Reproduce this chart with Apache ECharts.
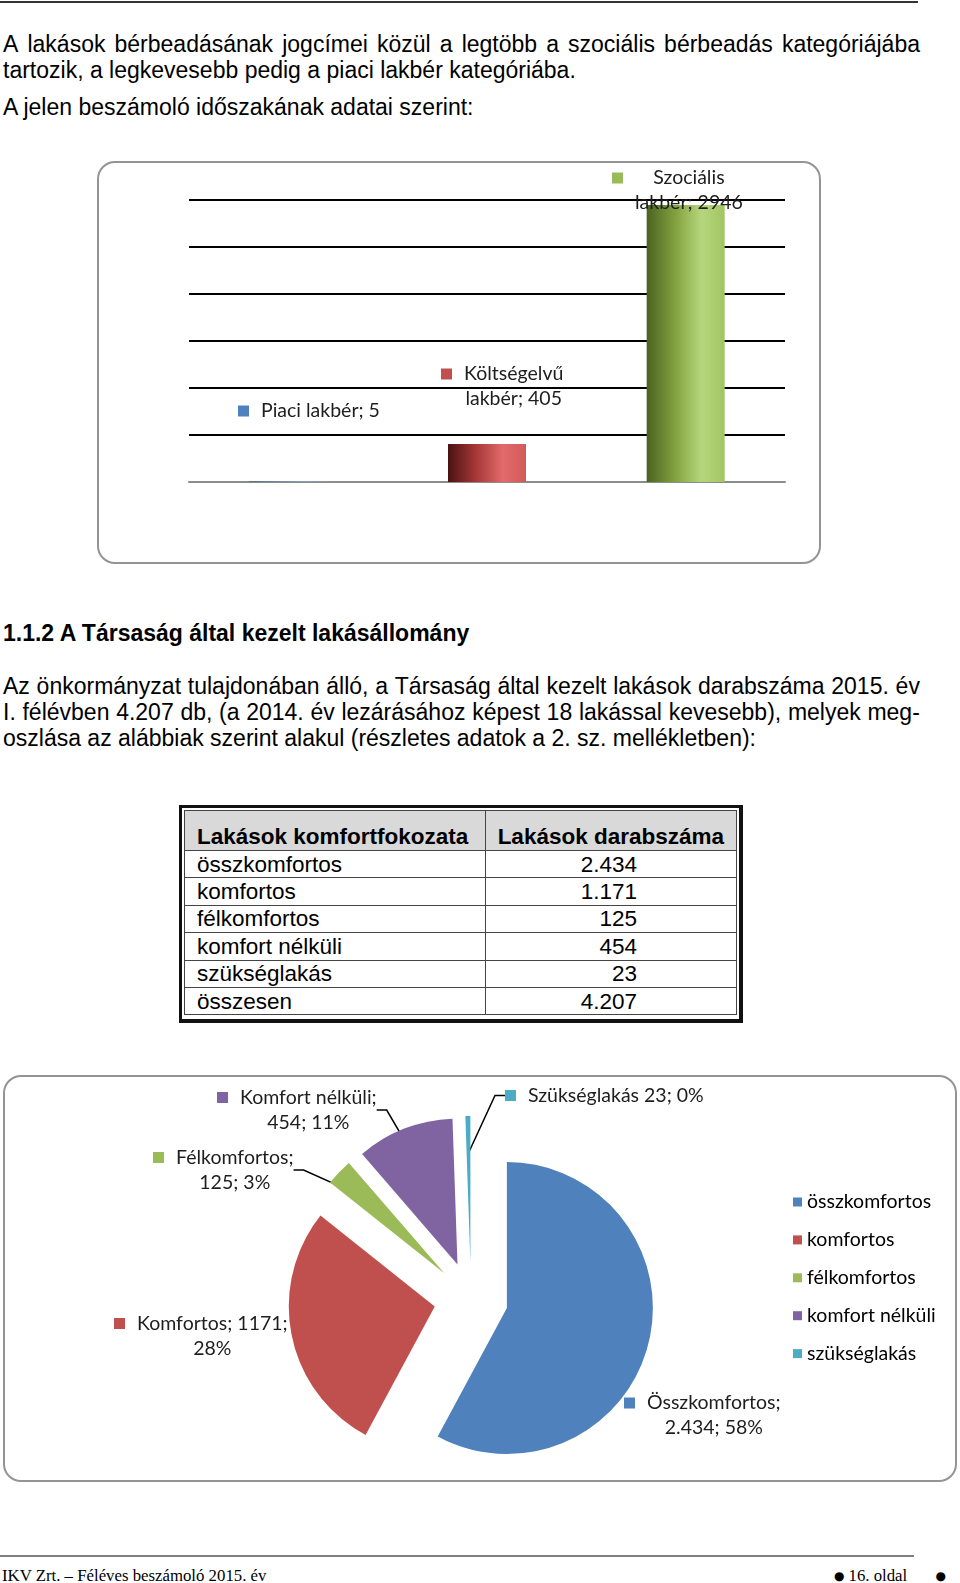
<!DOCTYPE html>
<html>
<head>
<meta charset="utf-8">
<script src="https://cdn.jsdelivr.net/npm/echarts@6/dist/echarts.min.js"></script>
<style>
  html, body { margin: 0; padding: 0; background: #fff; }
  #page { position: relative; width: 960px; height: 1583px; overflow: hidden; font-family: 'Liberation Sans', Arial, sans-serif; color: #000; }
  .rule { position: absolute; left: 0; }
  .ln { position: absolute; left: 3px; width: 917px; font-size: 23px; line-height: 26px; white-space: nowrap; }
  .j { display: flex; justify-content: space-between; }
  .b { font-weight: bold; }
  .box { position: absolute; box-sizing: border-box; border: 2px solid #949494; border-radius: 18px; }
  .chart { position: absolute; }
  #tbl { position: absolute; left: 179px; top: 805px; width: 564px; height: 218px; box-sizing: border-box;
         border: 3px solid #111; border-right-width: 4px; border-bottom-width: 4px; padding: 2px; }
  #tbl table { width: 100%; border-collapse: collapse; font-size: 22.5px; line-height: 25px; }
  #tbl td { border: 1.5px solid #444; padding: 0 12px; height: 26.4px; white-space: nowrap; }
  #tbl tr.h td { background: #d9d9d9; font-weight: bold; height: 38px; vertical-align: bottom; padding-bottom: 1px; }
  #tbl td.v { text-align: right; padding-right: 99px; }
  .foot { position: absolute; top: 1567px; font-family: 'Liberation Serif', 'Times New Roman', serif; font-size: 16.8px; line-height: 18px; white-space: nowrap; }
  #pg { width: 112px; display: flex; align-items: center; }
  .dot { font-family: 'DejaVu Sans', sans-serif; font-size: 12px; }
</style>
</head>
<body>
<div id="page">
  <div class="rule" style="top:1px;width:918px;height:2px;background:#333;"></div>

  <div class="ln j" style="top:30.7px;">A lakások bérbeadásának jogcímei közül a legtöbb a szociális bérbeadás kategóriájába</div>
  <div class="ln" style="top:56.5px;">tartozik, a legkevesebb pedig a piaci lakbér kategóriába.</div>
  <div class="ln" style="top:93.8px;">A jelen beszámoló időszakának adatai szerint:</div>

  <div class="box" style="left:97px;top:161px;width:724px;height:403px;"></div>
  <div class="chart" id="bar_chart" style="left:97px;top:161px;width:724px;height:403px;"></div>

  <div class="ln b" style="top:620.3px;">1.1.2 A Társaság által kezelt lakásállomány</div>

  <div class="ln j" style="top:672.8px;">Az önkormányzat tulajdonában álló, a Társaság által kezelt lakások darabszáma 2015. év</div>
  <div class="ln j" style="top:699px;">I. félévben 4.207 db, (a 2014. év lezárásához képest 18 lakással kevesebb), melyek meg-</div>
  <div class="ln" style="top:725.3px;">oszlása az alábbiak szerint alakul (részletes adatok a 2. sz. mellékletben):</div>

  <div id="tbl"><table id="tbl_body"></table></div>

  <div class="box" style="left:3px;top:1075px;width:954px;height:407px;"></div>
  <div class="chart" id="pie_chart" style="left:3px;top:1075px;width:954px;height:407px;"></div>

  <div class="rule" style="top:1555px;width:914px;height:2px;background:#808080;"></div>
  <div class="foot" style="left:2px;">IKV Zrt. – Féléves beszámoló 2015. év</div>
  <div class="foot" id="pg" style="left:834px;"><span class="dot">●</span><span style="margin-left:4px">16. oldal</span><span class="dot" style="margin-left:auto">●</span></div>
</div>

<script>
// oszlopdiagram adatai
const barCategories = ['Piaci lakbér', 'Költségelvű lakbér', 'Szociális lakbér'];
const barValues = [5, 405, 2946];
const barColors = ['#4f81bd', '#c0504d', '#9bbb59'];

// táblázat
const tableHeader = ['Lakások komfortfokozata', 'Lakások darabszáma'];
const tableRows = ['összkomfortos', 'komfortos', 'félkomfortos', 'komfort nélküli', 'szükséglakás', 'összesen'];
const tableValues = ['2.434', '1.171', '125', '454', '23', '4.207'];

// kördiagram
const pieNames = ['összkomfortos', 'komfortos', 'félkomfortos', 'komfort nélküli', 'szükséglakás'];
const pieLabelNames = ['Összkomfortos', 'Komfortos', 'Félkomfortos', 'Komfort nélküli', 'Szükséglakás'];
const pieValues = [2434, 1171, 125, 454, 23];
const pieValueText = ['2.434', '1171', '125', '454', '23'];
const pieColors = ['#4f81bd', '#c0504d', '#9bbb59', '#8064a2', '#4bacc6'];

const labelFont = 'Lato, "Open Sans", sans-serif';
const labelSize = 19.5;

// sorkizárt sorok: szavanként flex
document.querySelectorAll('.ln.j').forEach(el => {
  const words = el.textContent.split(' ');
  el.textContent = '';
  words.forEach(w => {
    const s = document.createElement('span');
    s.textContent = w;
    el.appendChild(s);
  });
});

// táblázat felépítése
let html = '<tr class="h"><td style="width:277px">' + tableHeader[0] + '</td><td>' + tableHeader[1] + '</td></tr>';
tableRows.forEach((r, i) => {
  html += '<tr><td>' + r + '</td><td class="v">' + tableValues[i] + '</td></tr>';
});
document.getElementById('tbl_body').innerHTML = html;

// közös rich stílus a jelölős feliratokhoz
function markerRich(colors) {
  const rich = {
    g: { width: 12, align: 'left', lineHeight: 25 },
    p: { width: 23, align: 'left', lineHeight: 25 },
    t: { align: 'center', fontFamily: labelFont, fontSize: labelSize, color: '#1e1e1e', lineHeight: 25 }
  };
  colors.forEach((c, i) => {
    rich['m' + i] = { width: 11, height: 11, backgroundColor: c, align: 'left', lineHeight: 25 };
  });
  return rich;
}
function markerText(idx, lines) {
  return lines.map((s, k) => (k === 0 ? '{m' + idx + '|}{g|}' : '{p|}') + '{t|' + s + '}').join('\n');
}

//---------------- oszlopdiagram
const barGradients = [
  ['#2d4f7c', '#4f81bd', '#86aee0', '#7aa2d4'],
  ['#4a1212', '#a53636', '#e26a6a', '#d45a5a'],
  ['#4a6320', '#7f9f3e', '#b6d67c', '#a2c562']
];
function hgrad(c) {
  return new echarts.graphic.LinearGradient(0, 0, 1, 0, [
    { offset: 0, color: c[0] },
    { offset: 0.35, color: c[1] },
    { offset: 0.7, color: c[2] },
    { offset: 1, color: c[3] }
  ]);
}
const barLabelPos = [[141, 237.5], [344, 200.5], [515, 4.5]];

const barChart = echarts.init(document.getElementById('bar_chart'));
barChart.setOption({
  animation: false,
  grid: { left: 92, top: 39, width: 596, height: 282 },
  xAxis: {
    type: 'category',
    data: barCategories,
    axisLine: { lineStyle: { color: '#8c8c8c', width: 2 } },
    axisTick: { show: false },
    axisLabel: { show: false }
  },
  yAxis: {
    type: 'value',
    min: 0,
    max: 3000,
    interval: 500,
    axisLabel: { show: false },
    axisLine: { show: false },
    axisTick: { show: false },
    splitLine: { lineStyle: { color: '#000', width: 2 } }
  },
  series: [{
    type: 'bar',
    barWidth: 78,
    data: barValues.map((v, i) => ({ value: v, itemStyle: { color: hgrad(barGradients[i]) } })),
    label: {
      show: true,
      position: 'top',
      formatter: p => {
        const txt = p.name + '; ' + p.value;
        if (p.dataIndex === 0) return markerText(0, [txt]);
        const sp = p.name.indexOf(' ');
        return markerText(p.dataIndex, [p.name.slice(0, sp), p.name.slice(sp + 1) + '; ' + p.value]);
      },
      rich: markerRich(barColors)
    },
    labelLayout: p => ({
      x: barLabelPos[p.dataIndex][0],
      y: barLabelPos[p.dataIndex][1],
      align: 'left',
      verticalAlign: 'top'
    })
  }]
});

//---------------- kördiagram
// a kirobbantott (selected) szeletek felülírják a felirat helyét,
// ezért a feliratok egy második, átlátszó kör-sorozaton vannak
const pieLabelPos = [[621, 315.5], [111, 236], [150, 70], [214, 10], [502, 8]];
const pieCommon = {
  type: 'pie',
  center: [468, 224],
  radius: 146,
  startAngle: 90,
  clockwise: true,
  avoidLabelOverlap: false,
  percentPrecision: 0,
  silent: true,
  emphasis: { disabled: true }
};
const pieChart = echarts.init(document.getElementById('pie_chart'));
pieChart.setOption({
  animation: false,
  legend: {
    orient: 'vertical',
    left: 785,
    top: 112,
    icon: 'rect',
    itemWidth: 9,
    itemHeight: 9,
    itemGap: 17.9,
    selectedMode: false,
    textStyle: { fontFamily: labelFont, fontSize: labelSize, color: '#000', lineHeight: 20 },
    data: pieNames
  },
  series: [
    Object.assign({}, pieCommon, {
      z: 3,
      selectedMode: 'multiple',
      selectedOffset: 37,
      data: pieValues.map((v, i) => ({
        value: v,
        name: pieNames[i],
        selected: true,
        itemStyle: { color: pieColors[i] }
      })),
      label: { show: false },
      labelLine: { show: false }
    }),
    Object.assign({}, pieCommon, {
      z: 2,
      selectedMode: false,
      itemStyle: { color: 'rgba(0,0,0,0)' },
      data: pieValues.map((v, i) => ({
        value: v,
        name: pieNames[i],
        labelLine: { show: i >= 2 }
      })),
      label: {
        show: true,
        position: 'outside',
        formatter: p => {
          const i = p.dataIndex;
          const n = pieLabelNames[i], v = pieValueText[i], d = p.percent;
          let lines;
          if (i === 1) lines = [n + '; ' + v + ';', d + '%'];
          else if (i === 4) lines = [n + ' ' + v + '; ' + d + '%'];
          else lines = [n + ';', v + '; ' + d + '%'];
          return markerText(i, lines);
        },
        rich: markerRich(pieColors)
      },
      labelLine: { show: true, length: 10, length2: 10, smooth: false, lineStyle: { color: '#000', width: 1.5 } },
      labelLayout: p => ({
        x: pieLabelPos[p.dataIndex][0],
        y: pieLabelPos[p.dataIndex][1],
        align: 'left',
        verticalAlign: 'top'
      })
    })
  ]
});
</script>
</body>
</html>
